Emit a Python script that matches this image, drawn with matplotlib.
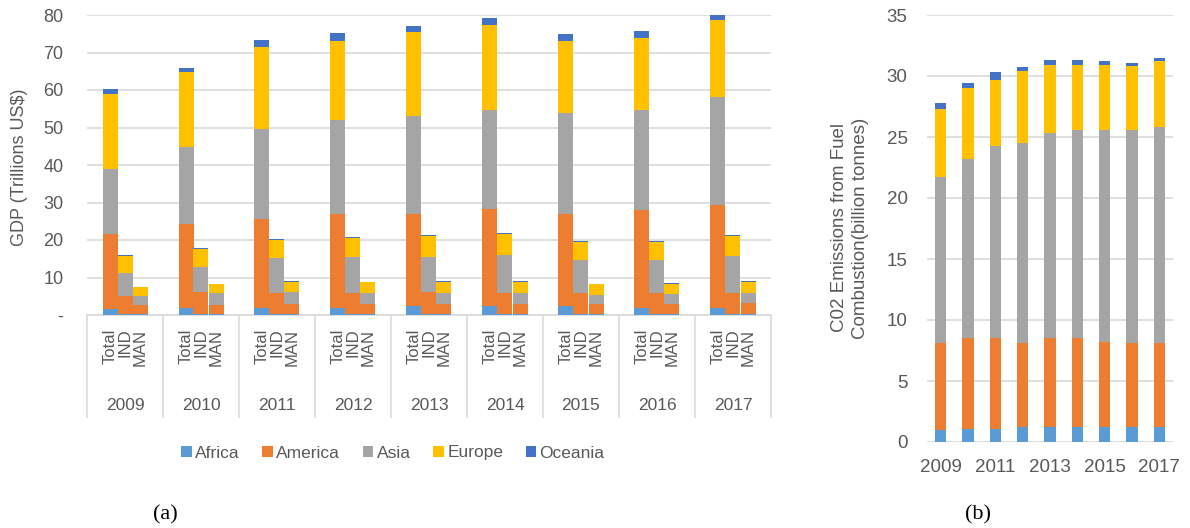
import numpy as np
import matplotlib
matplotlib.use("Agg")
import matplotlib.pyplot as plt

plt.rcParams['font.family'] = ['Liberation Sans', 'DejaVu Sans']

years = ['2009', '2010', '2011', '2012', '2013', '2014', '2015', '2016', '2017']
levels = ['Total', 'IND', 'MAN']
regions = ['Africa', 'America', 'Asia', 'Europe', 'Oceania']
colors = ['#5B9BD5', '#ED7D31', '#A5A5A5', '#FFC000', '#4472C4']

# GDP (trillions US$), one row per region, one column per year
gdp_total = [
    [1.5, 1.8, 1.8, 2.0, 2.4, 2.4, 2.4, 1.8, 1.8],
    [20.2, 22.6, 23.9, 25.0, 24.6, 26.0, 24.6, 26.1, 27.5],
    [17.3, 20.4, 23.9, 24.9, 26.2, 26.3, 26.8, 26.8, 28.8],
    [20.0, 19.9, 21.8, 21.2, 22.2, 22.7, 19.3, 19.3, 20.5],
    [1.2, 1.3, 2.0, 2.0, 1.7, 1.8, 1.8, 1.8, 1.5],
]
gdp_ind = [
    [0.4, 0.4, 0.4, 0.4, 0.4, 0.4, 0.4, 0.4, 0.4],
    [4.6, 5.8, 5.4, 5.4, 5.8, 5.4, 5.4, 5.4, 5.4],
    [6.1, 6.7, 9.3, 9.7, 9.3, 10.2, 9.0, 9.0, 9.9],
    [4.6, 4.8, 5.0, 5.0, 5.5, 5.6, 4.7, 4.7, 5.3],
    [0.3, 0.3, 0.3, 0.3, 0.3, 0.3, 0.3, 0.3, 0.3],
]
gdp_man = [
    [0.2, 0.2, 0.2, 0.2, 0.2, 0.2, 0.2, 0.2, 0.2],
    [2.5, 2.5, 2.7, 2.7, 2.7, 2.7, 2.7, 2.7, 2.9],
    [2.3, 3.1, 3.3, 3.1, 2.9, 2.9, 2.4, 2.7, 2.7],
    [2.4, 2.4, 2.6, 2.7, 3.0, 3.0, 2.9, 2.8, 3.0],
    [0.1, 0.2, 0.2, 0.2, 0.2, 0.2, 0.2, 0.2, 0.2],
]
# CO2 emissions from fuel combustion (billion tonnes)
co2 = [
    [1.0, 1.1, 1.1, 1.2, 1.2, 1.2, 1.2, 1.2, 1.2],
    [7.1, 7.4, 7.4, 6.9, 7.3, 7.3, 7.0, 6.9, 6.9],
    [13.6, 14.7, 15.8, 16.4, 16.8, 17.1, 17.4, 17.5, 17.7],
    [5.6, 5.8, 5.4, 5.9, 5.6, 5.3, 5.3, 5.2, 5.4],
    [0.45, 0.4, 0.6, 0.3, 0.4, 0.4, 0.35, 0.3, 0.3],
]

txt = '#595959'
grid = '#D9D9D9'
W, H = 1190, 528

fig = plt.figure(figsize=(W / 100, H / 100), dpi=100)

# ---- (a) GDP by year and level
ax1 = fig.add_axes([87 / W, (H - 315) / H, (771 - 87) / W, 300 / H])
n = len(years)
bw = 15 / 76
for g, block in enumerate([gdp_total, gdp_ind, gdp_man]):
    x = np.arange(n) + 0.5 + (g - 1) * bw
    bottom = np.zeros(n)
    for r, vals in enumerate(block):
        vals = np.array(vals)
        ax1.bar(x, vals, bw, bottom=bottom, color=colors[r], linewidth=0,
                label=regions[r] if g == 0 else None, zorder=3)
        bottom += vals

ax1.set_xlim(0, n)
ax1.set_ylim(0, 80)
ax1.set_yticks(range(0, 81, 10))
ax1.set_yticklabels(['-'] + [str(v) for v in range(10, 81, 10)])
ax1.set_xticks([])
ax1.yaxis.grid(True, color=grid, linewidth=1.2, zorder=0)
for s in ['top', 'right', 'left']:
    ax1.spines[s].set_visible(False)
ax1.spines['bottom'].set_color(grid)
ax1.spines['bottom'].set_linewidth(1.2)
ax1.tick_params(axis='y', length=0, pad=17, labelsize=13, labelcolor=txt)

# multi-level category axis
trans = ax1.get_xaxis_transform()
for k in range(n + 1):
    ax1.plot([k, k], [0, -0.34], transform=trans, color=grid, lw=1.2,
             clip_on=False)
for i, yr in enumerate(years):
    for g, lev in enumerate(levels):
        ax1.text(i + 0.5 + (g - 1) * bw, -0.045, lev, transform=trans,
                 rotation=90, ha='center', va='top', fontsize=12, color=txt)
    ax1.text(i + 0.5, -0.30, yr, transform=trans, ha='center', va='center',
             fontsize=12.5, color=txt)

fig.text(20 / W, (H - 167) / H, 'GDP (Trillions US$)', rotation=90,
         ha='center', va='center', fontsize=13, color=txt)
fig.legend(loc='center', bbox_to_anchor=(393 / W, (H - 453) / H), ncol=5,
           frameon=False, fontsize=12.5, handlelength=0.6, handleheight=0.6,
           handletextpad=0.2, columnspacing=1.3, labelcolor=txt)

# ---- (b) CO2 emissions
ax2 = fig.add_axes([927 / W, (H - 442) / H, 246 / W, 427 / H])
xb = np.arange(n)
bottom = np.zeros(n)
for r, vals in enumerate(co2):
    vals = np.array(vals)
    ax2.bar(xb, vals, 0.41, bottom=bottom, color=colors[r], linewidth=0,
            zorder=3)
    bottom += vals
ax2.set_xlim(-0.5, n - 0.5)
ax2.set_ylim(0, 35)
ax2.set_yticks(range(0, 36, 5))
ax2.set_xticks(xb[::2])
ax2.set_xticklabels(years[::2])
ax2.yaxis.grid(True, color=grid, linewidth=1.2, zorder=0)
for s in ax2.spines.values():
    s.set_visible(False)
ax2.tick_params(axis='y', length=0, pad=14, labelsize=13.5, labelcolor=txt)
ax2.tick_params(axis='x', length=0, pad=12, labelsize=13.5, labelcolor=txt)

fig.text(850 / W, (H - 228) / H,
         'C02 Emissions from Fuel\nCombustion(billion tonnes)', rotation=90,
         ha='center', va='center', multialignment='center', linespacing=1.3,
         fontsize=13.5, color=txt)

# panel captions
fig.text(165 / W, (H - 515) / H, '(a)', ha='center', va='center',
         family='Liberation Serif', fontsize=16, color='black')
fig.text(978 / W, (H - 515) / H, '(b)', ha='center', va='center',
         family='Liberation Serif', fontsize=16, color='black')

fig.savefig('out.png', dpi=100, facecolor='white')
